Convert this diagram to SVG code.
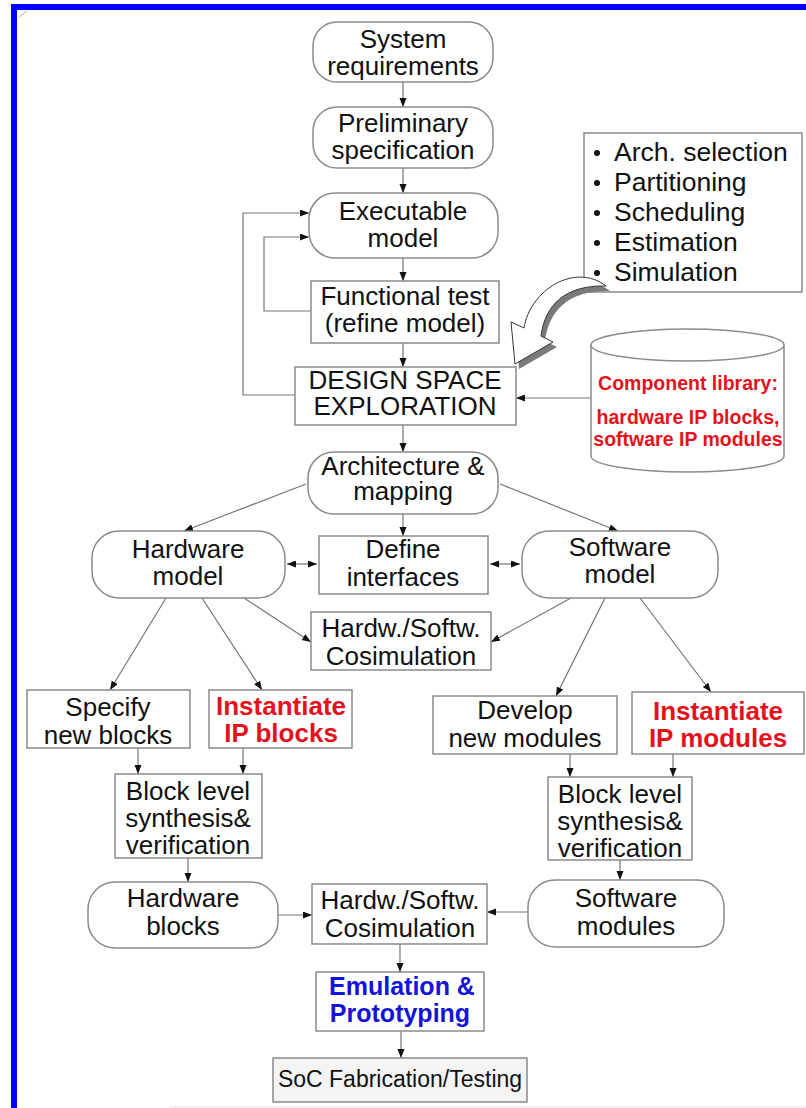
<svg xmlns="http://www.w3.org/2000/svg" width="806" height="1108" viewBox="0 0 806 1108">
  <style>
    .box { fill: #ffffff; stroke: #8a8a8a; stroke-width: 1.5; }
    .lbl { font-family: "Liberation Sans", Arial, sans-serif; font-size: 26px; fill: #111111; text-anchor: middle; }
    .red { font-family: "Liberation Sans", Arial, sans-serif; font-size: 26px; font-weight: bold; fill: #e3121c; text-anchor: middle; }
    .blue { font-family: "Liberation Sans", Arial, sans-serif; font-size: 25px; font-weight: bold; fill: #1414d8; text-anchor: middle; }
    .lib { font-family: "Liberation Sans", Arial, sans-serif; font-size: 19.5px; font-weight: bold; fill: #e3121c; text-anchor: middle; }
    .bul { font-family: "Liberation Sans", Arial, sans-serif; font-size: 26.5px; fill: #111111; }
    .con { fill: none; stroke: #767676; stroke-width: 1.2; }
  </style>
  <defs>
    <marker id="ah" markerWidth="10" markerHeight="8" refX="9" refY="3.5" orient="auto" markerUnits="userSpaceOnUse">
      <path d="M0,0 L9,3.5 L0,7 z" fill="#111111"/>
    </marker>
    <marker id="at" markerWidth="10" markerHeight="8" refX="0" refY="3.5" orient="auto" markerUnits="userSpaceOnUse">
      <path d="M9,0 L0,3.5 L9,7 z" fill="#111111"/>
    </marker>
    <path id="fat-arrow" d="M606,286 C575,262 530,290 524,328 L511,322 L515,364 L553,342 L541,336 C545,305 565,285 606,286 Z"/>
  </defs>

  <rect width="806" height="1108" fill="#ffffff"/>

  <!-- frame -->
  <rect x="11" y="4" width="795" height="6" fill="#0000ff"/>
  <rect x="11" y="4" width="6" height="1104" fill="#0000ff"/>
  <line x1="19" y1="17" x2="27" y2="11" stroke="#b0b0c0" stroke-width="1"/>
  <line x1="170" y1="1107" x2="806" y2="1107" stroke="#e6e6f2" stroke-width="1.5"/>

  <!-- connectors -->
  <g id="connectors">
    <line class="con" x1="403" y1="82" x2="403" y2="107" marker-end="url(#ah)"/>
    <line class="con" x1="403" y1="168" x2="403" y2="193" marker-end="url(#ah)"/>
    <line class="con" x1="403" y1="258" x2="403" y2="281" marker-end="url(#ah)"/>
    <line class="con" x1="403" y1="343" x2="403" y2="367" marker-end="url(#ah)"/>
    <polyline class="con" points="311,311 264,311 264,237 309,237" marker-end="url(#ah)"/>
    <polyline class="con" points="295,395 243,395 243,213 309,213" marker-end="url(#ah)"/>
    <line class="con" x1="591" y1="398" x2="516" y2="398" marker-end="url(#ah)"/>
    <line class="con" x1="403" y1="425" x2="403" y2="452" marker-end="url(#ah)"/>
    <line class="con" x1="306" y1="484" x2="184" y2="531" marker-end="url(#ah)"/>
    <line class="con" x1="500" y1="484" x2="618" y2="531" marker-end="url(#ah)"/>
    <line class="con" x1="403" y1="514" x2="403" y2="536" marker-end="url(#ah)"/>
    <line class="con" x1="287" y1="564" x2="317" y2="564" marker-start="url(#at)" marker-end="url(#ah)"/>
    <line class="con" x1="490" y1="564" x2="520" y2="564" marker-start="url(#at)" marker-end="url(#ah)"/>
    <line class="con" x1="244" y1="598" x2="311" y2="642" marker-end="url(#ah)"/>
    <line class="con" x1="571" y1="598" x2="491" y2="642" marker-end="url(#ah)"/>
    <line class="con" x1="166" y1="598" x2="110" y2="690" marker-end="url(#ah)"/>
    <line class="con" x1="202" y1="598" x2="262" y2="690" marker-end="url(#ah)"/>
    <line class="con" x1="605" y1="598" x2="556" y2="696" marker-end="url(#ah)"/>
    <line class="con" x1="640" y1="598" x2="711" y2="692" marker-end="url(#ah)"/>
    <line class="con" x1="138" y1="748" x2="138" y2="774" marker-end="url(#ah)"/>
    <line class="con" x1="243" y1="748" x2="243" y2="774" marker-end="url(#ah)"/>
    <line class="con" x1="570" y1="754" x2="570" y2="777" marker-end="url(#ah)"/>
    <line class="con" x1="673" y1="754" x2="673" y2="777" marker-end="url(#ah)"/>
    <line class="con" x1="188" y1="858" x2="188" y2="882" marker-end="url(#ah)"/>
    <line class="con" x1="620" y1="860" x2="620" y2="880" marker-end="url(#ah)"/>
    <line class="con" x1="278" y1="915" x2="312" y2="915" marker-end="url(#ah)"/>
    <line class="con" x1="528" y1="912" x2="487" y2="912" marker-end="url(#ah)"/>
    <line class="con" x1="400" y1="944" x2="400" y2="972" marker-end="url(#ah)"/>
    <line class="con" x1="401" y1="1031" x2="401" y2="1058" marker-end="url(#ah)"/>
  </g>

  <g id="system-requirements">
    <rect class="box" x="313" y="22" width="180" height="60" rx="24"/>
    <text class="lbl" x="403" y="48">System</text>
    <text class="lbl" x="403" y="75">requirements</text>
  </g>

  <g id="preliminary-specification">
    <rect class="box" x="313" y="107" width="180" height="61" rx="24"/>
    <text class="lbl" x="403" y="132">Preliminary</text>
    <text class="lbl" x="403" y="159">specification</text>
  </g>

  <g id="executable-model">
    <rect class="box" x="309" y="193" width="189" height="65" rx="26"/>
    <text class="lbl" x="403" y="220">Executable</text>
    <text class="lbl" x="403" y="247">model</text>
  </g>

  <g id="functional-test">
    <rect class="box" x="311" y="281" width="188" height="62"/>
    <text class="lbl" x="405" y="305">Functional test</text>
    <text class="lbl" x="405" y="332">(refine model)</text>
  </g>

  <g id="design-space-exploration">
    <rect class="box" x="295" y="367" width="221" height="58"/>
    <text class="lbl" x="405" y="389">DESIGN SPACE</text>
    <text class="lbl" x="405" y="415">EXPLORATION</text>
  </g>

  <g id="task-list">
    <rect class="box" x="584" y="133" width="218" height="159"/>
    <circle cx="597" cy="153" r="3" fill="#111111"/>
    <circle cx="597" cy="183" r="3" fill="#111111"/>
    <circle cx="597" cy="213" r="3" fill="#111111"/>
    <circle cx="597" cy="243" r="3" fill="#111111"/>
    <circle cx="597" cy="273" r="3" fill="#111111"/>
    <text class="bul" x="614" y="161">Arch. selection</text>
    <text class="bul" x="614" y="191">Partitioning</text>
    <text class="bul" x="614" y="221">Scheduling</text>
    <text class="bul" x="614" y="251">Estimation</text>
    <text class="bul" x="614" y="281">Simulation</text>
  </g>

  <!-- curved block arrow from the task list into design space exploration -->
  <g id="task-arrow">
    <use href="#fat-arrow" fill="#7a7a7a" transform="translate(4,5)"/>
    <use href="#fat-arrow" fill="#ffffff" stroke="#333333" stroke-width="1"/>
  </g>

  <g id="component-library">
    <path d="M591,345 L591,456 A96.5,16 0 0 0 784,456 L784,345" fill="#ffffff" stroke="#8a8a8a" stroke-width="1.5"/>
    <ellipse cx="687.5" cy="345" rx="96.5" ry="16" fill="#ffffff" stroke="#8a8a8a" stroke-width="1.5"/>
    <text class="lib" x="688" y="390">Component library:</text>
    <text class="lib" x="688" y="424">hardware IP blocks,</text>
    <text class="lib" x="688" y="446">software IP modules</text>
  </g>

  <g id="architecture-mapping">
    <rect class="box" x="308" y="452" width="190" height="62" rx="26"/>
    <text class="lbl" x="403" y="475">Architecture &amp;</text>
    <text class="lbl" x="403" y="500">mapping</text>
  </g>

  <g id="hardware-model">
    <rect class="box" x="92" y="531" width="193" height="67" rx="27"/>
    <text class="lbl" x="188" y="558">Hardware</text>
    <text class="lbl" x="188" y="585">model</text>
  </g>

  <g id="define-interfaces">
    <rect class="box" x="319" y="536" width="169" height="58"/>
    <text class="lbl" x="403" y="558">Define</text>
    <text class="lbl" x="403" y="586">interfaces</text>
  </g>

  <g id="software-model">
    <rect class="box" x="522" y="531" width="196" height="67" rx="27"/>
    <text class="lbl" x="620" y="556">Software</text>
    <text class="lbl" x="620" y="583">model</text>
  </g>

  <g id="cosimulation-model">
    <rect class="box" x="311" y="612" width="180" height="58"/>
    <text class="lbl" x="401" y="637">Hardw./Softw.</text>
    <text class="lbl" x="401" y="665">Cosimulation</text>
  </g>

  <g id="specify-new-blocks">
    <rect class="box" x="27" y="690" width="163" height="58"/>
    <text class="lbl" x="108" y="716">Specify</text>
    <text class="lbl" x="108" y="744">new blocks</text>
  </g>

  <g id="instantiate-ip-blocks">
    <rect class="box" x="209" y="690" width="143" height="58"/>
    <text class="red" x="281" y="715">Instantiate</text>
    <text class="red" x="281" y="742">IP blocks</text>
  </g>

  <g id="develop-new-modules">
    <rect class="box" x="433" y="696" width="184" height="58"/>
    <text class="lbl" x="525" y="719">Develop</text>
    <text class="lbl" x="525" y="747">new modules</text>
  </g>

  <g id="instantiate-ip-modules">
    <rect class="box" x="632" y="692" width="172" height="62"/>
    <text class="red" x="718" y="720">Instantiate</text>
    <text class="red" x="718" y="747">IP modules</text>
  </g>

  <g id="hw-block-synthesis">
    <rect class="box" x="115" y="774" width="147" height="84"/>
    <text class="lbl" x="188" y="800">Block level</text>
    <text class="lbl" x="188" y="827">synthesis&amp;</text>
    <text class="lbl" x="188" y="854">verification</text>
  </g>

  <g id="sw-block-synthesis">
    <rect class="box" x="548" y="777" width="144" height="83"/>
    <text class="lbl" x="620" y="803">Block level</text>
    <text class="lbl" x="620" y="830">synthesis&amp;</text>
    <text class="lbl" x="620" y="857">verification</text>
  </g>

  <g id="hardware-blocks">
    <rect class="box" x="88" y="882" width="190" height="66" rx="27"/>
    <text class="lbl" x="183" y="907">Hardware</text>
    <text class="lbl" x="183" y="935">blocks</text>
  </g>

  <g id="cosimulation-blocks">
    <rect class="box" x="312" y="884" width="175" height="60"/>
    <text class="lbl" x="400" y="909">Hardw./Softw.</text>
    <text class="lbl" x="400" y="937">Cosimulation</text>
  </g>

  <g id="software-modules">
    <rect class="box" x="528" y="880" width="196" height="67" rx="27"/>
    <text class="lbl" x="626" y="907">Software</text>
    <text class="lbl" x="626" y="935">modules</text>
  </g>

  <g id="emulation-prototyping">
    <rect class="box" x="316" y="972" width="168" height="59"/>
    <text class="blue" x="402" y="995">Emulation &amp;</text>
    <text class="blue" x="400" y="1022">Prototyping</text>
  </g>

  <g id="soc-fabrication">
    <rect x="273" y="1058" width="254" height="44" fill="#f4f4f4" stroke="#8a8a8a" stroke-width="1.5"/>
    <text class="lbl" x="400" y="1087" style="font-size:23px">SoC Fabrication/Testing</text>
  </g>
</svg>
